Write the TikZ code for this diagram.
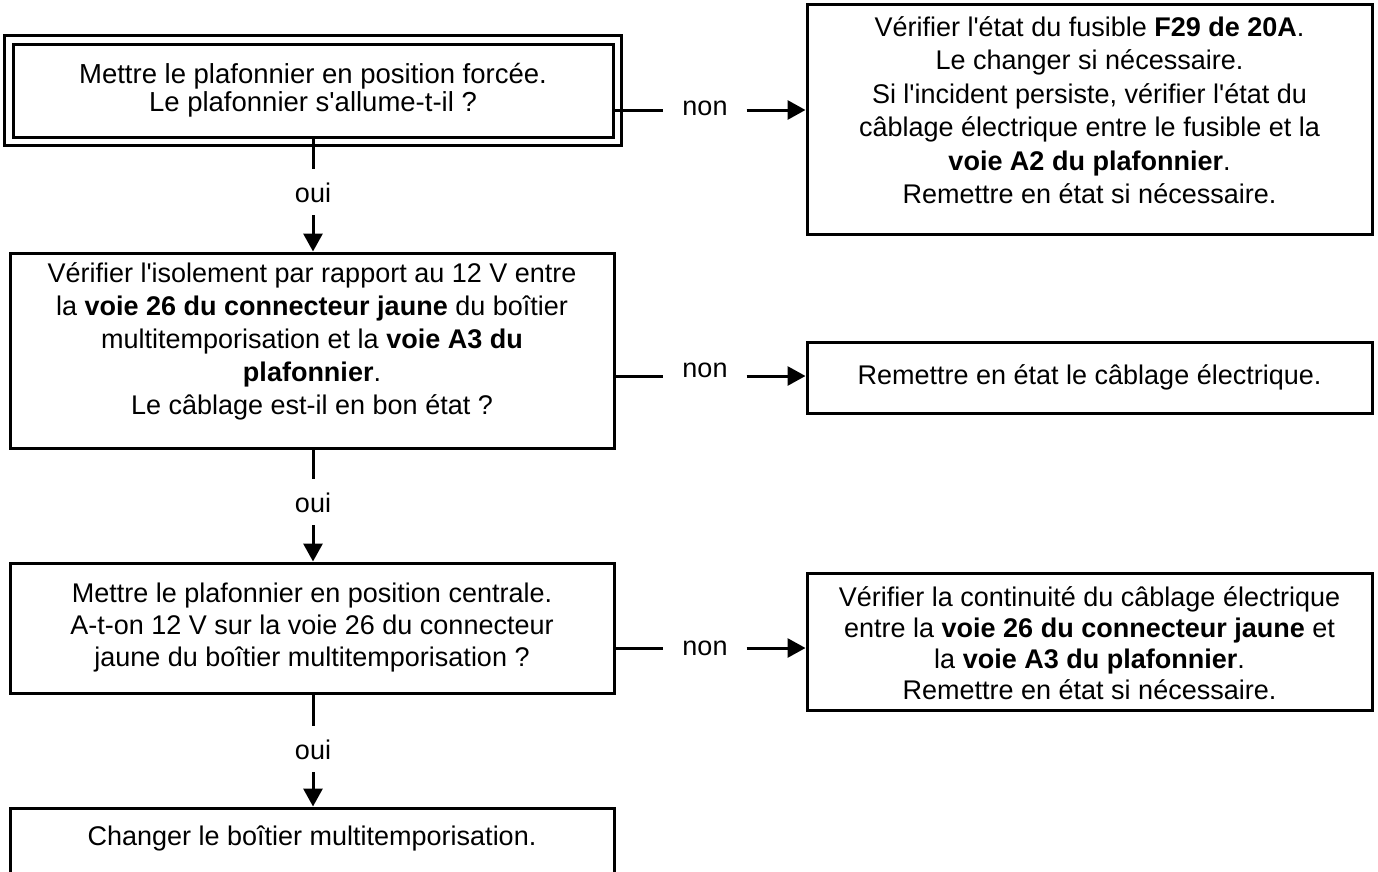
\documentclass[tikz,border=0pt]{standalone}
\usepackage{fontspec}
\newfontfamily\arial{Liberation Sans}
\usetikzlibrary{arrows.meta}
\begin{document}
\begin{tikzpicture}[x=1pt,y=-1pt,
  box/.style={draw, line width=3pt, inner sep=0pt},
  txt/.style={align=center, inner sep=0pt, font=\arial\fontsize{27}{32}\selectfont},
  lbl/.style={font=\arial\fontsize{27}{32}\selectfont, inner sep=0pt},
  conn/.style={line width=3pt},
  arr/.style={line width=3pt, -{Triangle[length=18pt,width=19pt]}}
]
\useasboundingbox (0,0) rectangle (1378,871);
% left column
\node[box, minimum width=600pt, minimum height=93pt] (b1) at (313,90.5) {};
\draw[line width=3pt] ([shift={(-7,-7)}]b1.north west) rectangle ([shift={(7,7)}]b1.south east);
\node[txt, font=\arial\fontsize{27.5}{28}\selectfont] (t1) at (313,90)
  {Mettre le plafonnier en position forcée.\\ Le plafonnier s'allume-t-il ?};
\node[box, minimum width=604pt, minimum height=195pt] (b2) at (312,350.5) {};
\node[txt, font=\arial\fontsize{27}{33}\selectfont] (t2) at (312,341)
  {Vérifier l'isolement par rapport au 12 V entre\\ la \textbf{voie 26 du connecteur jaune} du boîtier\\ multitemporisation et la \textbf{voie A3 du}\\ \textbf{plafonnier}.\\ Le câblage est-il en bon état ?};
\node[box, minimum width=604pt, minimum height=130pt] (b3) at (312,628) {};
\node[txt] (t3) at (312,628)
  {Mettre le plafonnier en position centrale.\\ A-t-on 12 V sur la voie 26 du connecteur\\ jaune du boîtier multitemporisation ?};
\node[box, minimum width=604pt, minimum height=66pt] (b4) at (312,841) {};
\node[txt] (t4) at (312,838) {Changer le boîtier multitemporisation.};
% right column
\node[box, minimum width=565pt, minimum height=230pt] (r1) at (1089.5,119) {};
\node[txt, font=\arial\fontsize{27}{33.5}\selectfont] (tr1) at (1089.5,110)
  {Vérifier l'état du fusible \textbf{F29 de 20A}.\\ Le changer si nécessaire.\\ Si l'incident persiste, vérifier l'état du\\ câblage électrique entre le fusible et la\\ \textbf{voie A2 du plafonnier}.\\ Remettre en état si nécessaire.};
\node[box, minimum width=565pt, minimum height=71pt] (r2) at (1089.5,377.5) {};
\node[txt] (tr2) at (1089.5,377.5) {Remettre en état le câblage électrique.};
\node[box, minimum width=565pt, minimum height=137pt] (r3) at (1089.5,641.5) {};
\node[txt, font=\arial\fontsize{27}{31}\selectfont] (tr3) at (1089.5,643)
  {Vérifier la continuité du câblage électrique\\ entre la \textbf{voie 26 du connecteur jaune} et\\ la \textbf{voie A3 du plafonnier}.\\ Remettre en état si nécessaire.};
% oui labels and vertical connectors
\node[lbl, anchor=base, text height=33pt, text depth=13pt] (o1) at (313,202) {oui};
\node[lbl, anchor=base, text height=33pt, text depth=13pt] (o2) at (313,512) {oui};
\node[lbl, anchor=base, text height=33pt, text depth=13pt] (o3) at (313,759) {oui};
\draw[conn] (b1.south -| o1) -- (o1.north);
\draw[arr] (o1.south) -- (o1.south |- b2.north);
\draw[conn] (b2.south -| o2) -- (o2.north);
\draw[arr] (o2.south) -- (o2.south |- b3.north);
\draw[conn] (b3.south -| o3) -- (o3.north);
\draw[arr] (o3.south) -- (o3.south |- b4.north);
% non labels and horizontal connectors
\node[lbl, inner xsep=19pt] (n1) at (705,108) {non};
\node[lbl, inner xsep=19pt] (n2) at (705,370) {non};
\node[lbl, inner xsep=19pt] (n3) at (705,648) {non};
\coordinate (y1) at (0,110);
\coordinate (y2) at (0,376);
\coordinate (y3) at (0,648);
\draw[conn] (b1.east |- y1) -- (n1.west |- y1);
\draw[arr] (n1.east |- y1) -- (r1.west |- y1);
\draw[conn] (b2.east |- y2) -- (n2.west |- y2);
\draw[arr] (n2.east |- y2) -- (r2.west |- y2);
\draw[conn] (b3.east |- y3) -- (n3.west |- y3);
\draw[arr] (n3.east |- y3) -- (r3.west |- y3);
\end{tikzpicture}
\end{document}
